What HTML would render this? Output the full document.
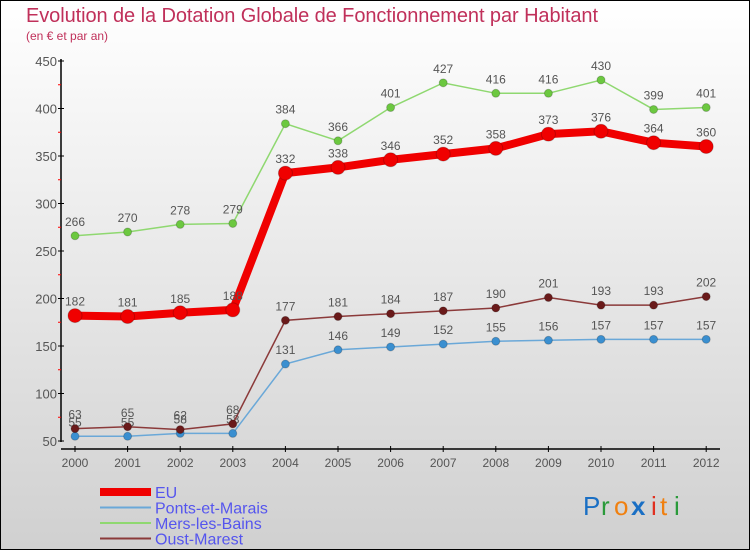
<!DOCTYPE html>
<html><head><meta charset="utf-8"><style>
body{margin:0;width:750px;height:550px;overflow:hidden;font-family:"Liberation Sans",sans-serif}
</style></head><body>
<svg width="750" height="550" xmlns="http://www.w3.org/2000/svg">
<defs><linearGradient id="bg" x1="0" y1="0" x2="0" y2="1"><stop offset="0" stop-color="#ffffff"/><stop offset="1" stop-color="#d0d0d0"/></linearGradient></defs>
<rect x="0.5" y="0.5" width="749" height="549" fill="url(#bg)" stroke="#000"/>
<text x="26" y="22" font-size="20" fill="#c0305a" textLength="572">Evolution de la Dotation Globale de Fonctionnement par Habitant</text>
<text x="26" y="40" font-size="12" fill="#c0305a">(en € et par an)</text>
<g id="axes"></g><g id="series"></g><g id="legend"></g>
<g font-size="26">
<text x="583" y="515" fill="#1a6fc4">P</text><text x="601" y="515" fill="#2a9a3a">r</text><text x="614" y="515" fill="#f08010">o</text><text x="631" y="515" fill="#1a6fc4" font-weight="bold">x</text><text x="651" y="515" fill="#e03020">i</text><text x="660" y="515" fill="#f08010">t</text><text x="674" y="515" fill="#2a9a3a">i</text>
</g>
</svg>
<script>
const years=[2000,2001,2002,2003,2004,2005,2006,2007,2008,2009,2010,2011,2012];
const yTicks=[50,100,150,200,250,300,350,400,450];
const eu=[182,181,185,188,332,338,346,352,358,373,376,364,360];
const ponts=[55,55,58,58,131,146,149,152,155,156,157,157,157];
const mers=[266,270,278,279,384,366,401,427,416,416,430,399,401];
const oust=[63,65,62,68,177,181,184,187,190,201,193,193,202];
const NS="http://www.w3.org/2000/svg";
const X=i=>75+i*52.6;
const Y=v=>441-(v-50)*0.95;
function mk(t,a,p){const e=document.createElementNS(NS,t);for(const k in a)e.setAttribute(k,a[k]);p.appendChild(e);return e;}
const ax=document.getElementById('axes');
mk('line',{x1:61,y1:59,x2:61,y2:442,stroke:'#000','stroke-width':1.5},ax);
mk('line',{x1:61,y1:449,x2:720,y2:449,stroke:'#000','stroke-width':1.5},ax);
yTicks.forEach((v,i)=>{
 mk('line',{x1:58,y1:Y(v),x2:64,y2:Y(v),stroke:'#000'},ax);
 if(i<yTicks.length-1) mk('line',{x1:58,y1:Y(v+25),x2:61,y2:Y(v+25),stroke:'#f00'},ax);
 const t=mk('text',{x:57,y:Y(v)+5,'font-size':13,fill:'#555','text-anchor':'end'},ax);t.textContent=v;
 
 
});
years.forEach((y,i)=>{
 mk('line',{x1:X(i),y1:446,x2:X(i),y2:452,stroke:'#000'},ax);
 const t=mk('text',{x:X(i),y:467,'font-size':12,fill:'#555','text-anchor':'middle'},ax);t.textContent=y;
 
 
});
const sg=document.getElementById('series');
function series(vals,color,dot,w,r,name){
 const g=mk('g',{},sg);
 
 
 mk('polyline',{points:vals.map((v,i)=>X(i)+','+Y(v)).join(' '),fill:'none',stroke:color,'stroke-width':w},g);
 vals.forEach((v,i)=>{
  const c=mk('circle',{cx:X(i),cy:Y(v),r:r,fill:dot,stroke:'#0003'},g);
  
  
  const t=mk('text',{x:X(i),y:Y(v)-10,'font-size':12,fill:'#555','text-anchor':'middle'},g);t.textContent=v;
 });
}
series(ponts,'#6aa8d8','#3a8fd0',1.5,4,'ponts-series');
series(mers,'#8fd870','#6cc840',1.5,4,'mers-series');
series(oust,'#8b3a3a','#6a1a1a',1.5,4,'oust-series');
series(eu,'#f00000','#f00000',8,7,'eu-series');
const lg=document.getElementById('legend');
const items=[['EU','#f00000',8],['Ponts-et-Marais','#6aa8d8',2],['Mers-les-Bains','#8fd870',2],['Oust-Marest','#8b3a3a',2]];
items.forEach((it,i)=>{
 const y=492+i*15.5;
 const g=mk('g',{},lg);
 
 
 mk('line',{x1:100,y1:y,x2:151,y2:y,stroke:it[1],'stroke-width':it[2]},g);
 const t=mk('text',{x:155,y:y+6,'font-size':16,fill:'#5555ee'},g);t.textContent=it[0];
});
</script>
</body></html>
